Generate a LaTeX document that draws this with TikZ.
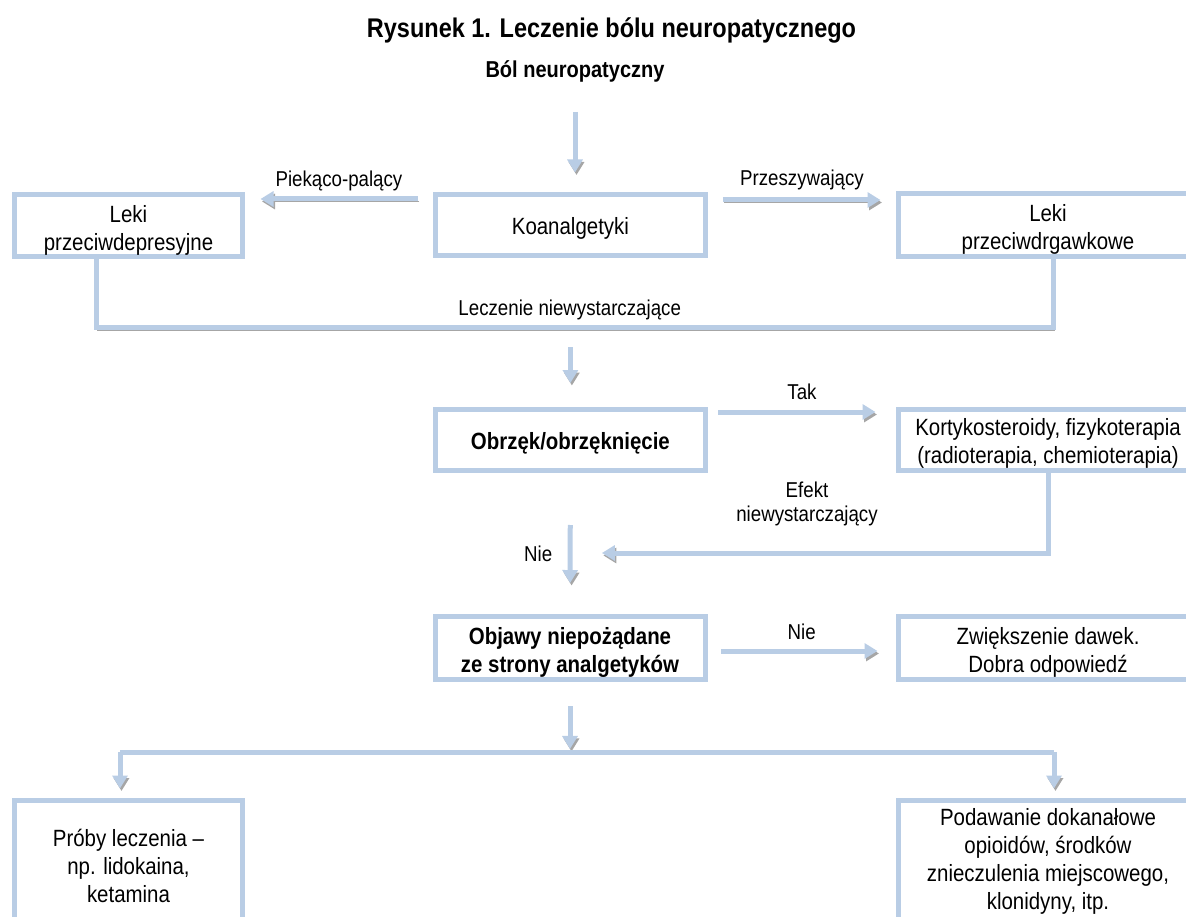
\documentclass[tikz,border=0pt]{standalone}
\usepackage{fontspec}
\setmainfont{Liberation Sans}[FakeStretch=0.87]
\usetikzlibrary{arrows.meta}

\definecolor{flowblue}{RGB}{185,205,229}
\newcommand{\boxfont}{\fontsize{23.5}{28}\selectfont}
\newcommand{\lblfont}{\fontsize{21.5}{24}\selectfont}
\newcommand{\ttlfont}{\fontsize{27}{30}\selectfont\bfseries}
\newcommand{\hdfont}{\fontsize{23}{26}\selectfont\bfseries}
\newcommand{\boxstrut}{\rule{0pt}{24pt}}
\newcommand{\tstrut}{\rule{0pt}{26pt}}

\begin{document}
\begin{tikzpicture}[x=1pt,y=1pt,
  box/.style={draw=flowblue, line width=5pt, align=center, font=\boxfont, inner sep=2pt},
  flow/.style={draw=flowblue, line width=5pt,
    preaction={draw=black!35, transform canvas={xshift=1.5pt,yshift=-2.5pt}}},
  arr/.style={flow, -{Triangle[length=13pt,width=15pt]}},
  lbl/.style={font=\lblfont, inner sep=0pt, anchor=base}]
  \pgfmathsetmacro{\boxh}{61}
  \pgfmathsetmacro{\midw}{270}
  \pgfmathsetmacro{\sidew}{299}

  \useasboundingbox (0,0) rectangle (1186,-917);
  \clip (0,0) rectangle (1186,-917);

  % Draw headings
  \node[font=\ttlfont, anchor=base, inner sep=0pt] (title) at (611.5,-38)
        {Rysunek 1. Leczenie bólu neuropatycznego};
  \node[font=\hdfont, anchor=base, inner sep=0pt] (bol) at (575,-78)
        {Ból neuropatyczny};

  % Draw boxes
  \node[box, minimum width=228pt, minimum height=62pt] (lekdep) at (128.5,-225.5)
        {\tstrut Leki\\przeciwdepresyjne};
  \node[box, minimum width=\midw pt, minimum height=\boxh pt] (koan) at (570.4,-225)
        {\boxstrut Koanalgetyki};
  \node[box, minimum width=\sidew pt, minimum height=\boxh pt] (lekdrg) at (1048,-225)
        {\tstrut Leki\\przeciwdrgawkowe};
  \node[box, font=\boxfont\bfseries, minimum width=\midw pt, minimum height=\boxh pt]
        (obrz) at (570.4,-440) {\boxstrut Obrzęk/obrzęknięcie};
  \node[box, minimum width=\sidew pt, minimum height=\boxh pt] (kort) at (1048,-440)
        {\boxstrut Kortykosteroidy, fizykoterapia\\(radioterapia, chemioterapia)};
  \node[box, font=\boxfont\bfseries, minimum width=\midw pt, minimum height=\boxh pt]
        (objaw) at (570,-648) {\tstrut Objawy niepożądane\\ze strony analgetyków};
  \node[box, minimum width=\sidew pt, minimum height=\boxh pt] (zwiek) at (1048,-648)
        {\tstrut Zwiększenie dawek.\\Dobra odpowiedź};
  \node[box, minimum width=228pt, minimum height=131pt] (proby) at (128.5,-866)
        {Próby leczenia --\\np. lidokaina,\\ketamina};
  \node[box, minimum width=\sidew pt, minimum height=121pt] (podaw) at (1048,-861)
        {Podawanie dokanałowe\\opioidów, środków\\znieczulenia miejscowego,\\klonidyny, itp.};

  % Draw first step
  \draw[arr, shorten <=29pt, shorten >=19.5pt] (bol.south) -- (bol.south |- koan.north);

  % Draw pain type arrows
  \coordinate (pk) at ([yshift=26pt]koan.west);
  \draw[arr, shorten <=15pt, shorten >=15.5pt] (pk) -- (pk -| lekdep.east)
        node[lbl, midway, yshift=12pt] {Piekąco-palący};
  \coordinate (pp) at ([yshift=25pt]koan.east);
  \draw[arr, shorten <=15pt, shorten >=15.5pt] (pp) -- (pp -| lekdrg.west)
        node[lbl, midway, yshift=14pt] {Przeszywający};

  % Draw insufficient treatment join
  \coordinate (jl) at (96,-328);
  \coordinate (jr) at (1053,-328);
  \draw[flow] (lekdep.south -| jl) -- (jl) -- (jr)
        node[lbl, pos=0.495, yshift=12pt] {Leczenie niewystarczające}
        -- (jr |- lekdrg.south);
  \coordinate (jm) at (jl -| koan.south);
  \draw[arr, shorten <=19pt, shorten >=24pt] (jm) -- (obrz.north);

  % Draw oedema branch
  \coordinate (tk) at ([yshift=28pt]obrz.east);
  \draw[arr, shorten <=10.5pt, shorten >=20.5pt] (tk) -- (tk -| kort.west)
        node[lbl, midway, yshift=13pt] {Tak};
  \coordinate (ef) at ([yshift=-80pt]kort.south);
  \draw[arr, shorten >=31.5pt] (kort.south) -- (ef) -- (ef -| obrz.south);
  \node[lbl, align=center, anchor=center] (eflbl) at (807,-503.5)
        {Efekt\\niewystarczający};
  \draw[arr, shorten <=52pt, shorten >=31pt] (obrz.south) -- (objaw.north)
        node[lbl, pos=0.57, anchor=east, xshift=-15.4pt] {Nie};

  % Draw side effects branch
  \coordinate (nr) at ([yshift=-3pt]objaw.east);
  \draw[arr, shorten <=13.5pt, shorten >=18.5pt] (nr) -- (nr -| zwiek.west)
        node[lbl, midway, yshift=12pt] {Nie};

  % Draw final split
  \coordinate (split) at ([yshift=-74pt]objaw.south);
  \draw[arr, shorten <=24.5pt, shorten >=7pt] (objaw.south) -- (split);
  \coordinate (sl) at (120,-752);
  \coordinate (sr) at (1054,-752);
  \draw[flow] (sl) -- (sr);
  \draw[arr, shorten >=9.5pt] (sl) -- (sl |- proby.north);
  \draw[arr, shorten >=9.5pt] (sr) -- (sr |- podaw.north);
\end{tikzpicture}
\end{document}
